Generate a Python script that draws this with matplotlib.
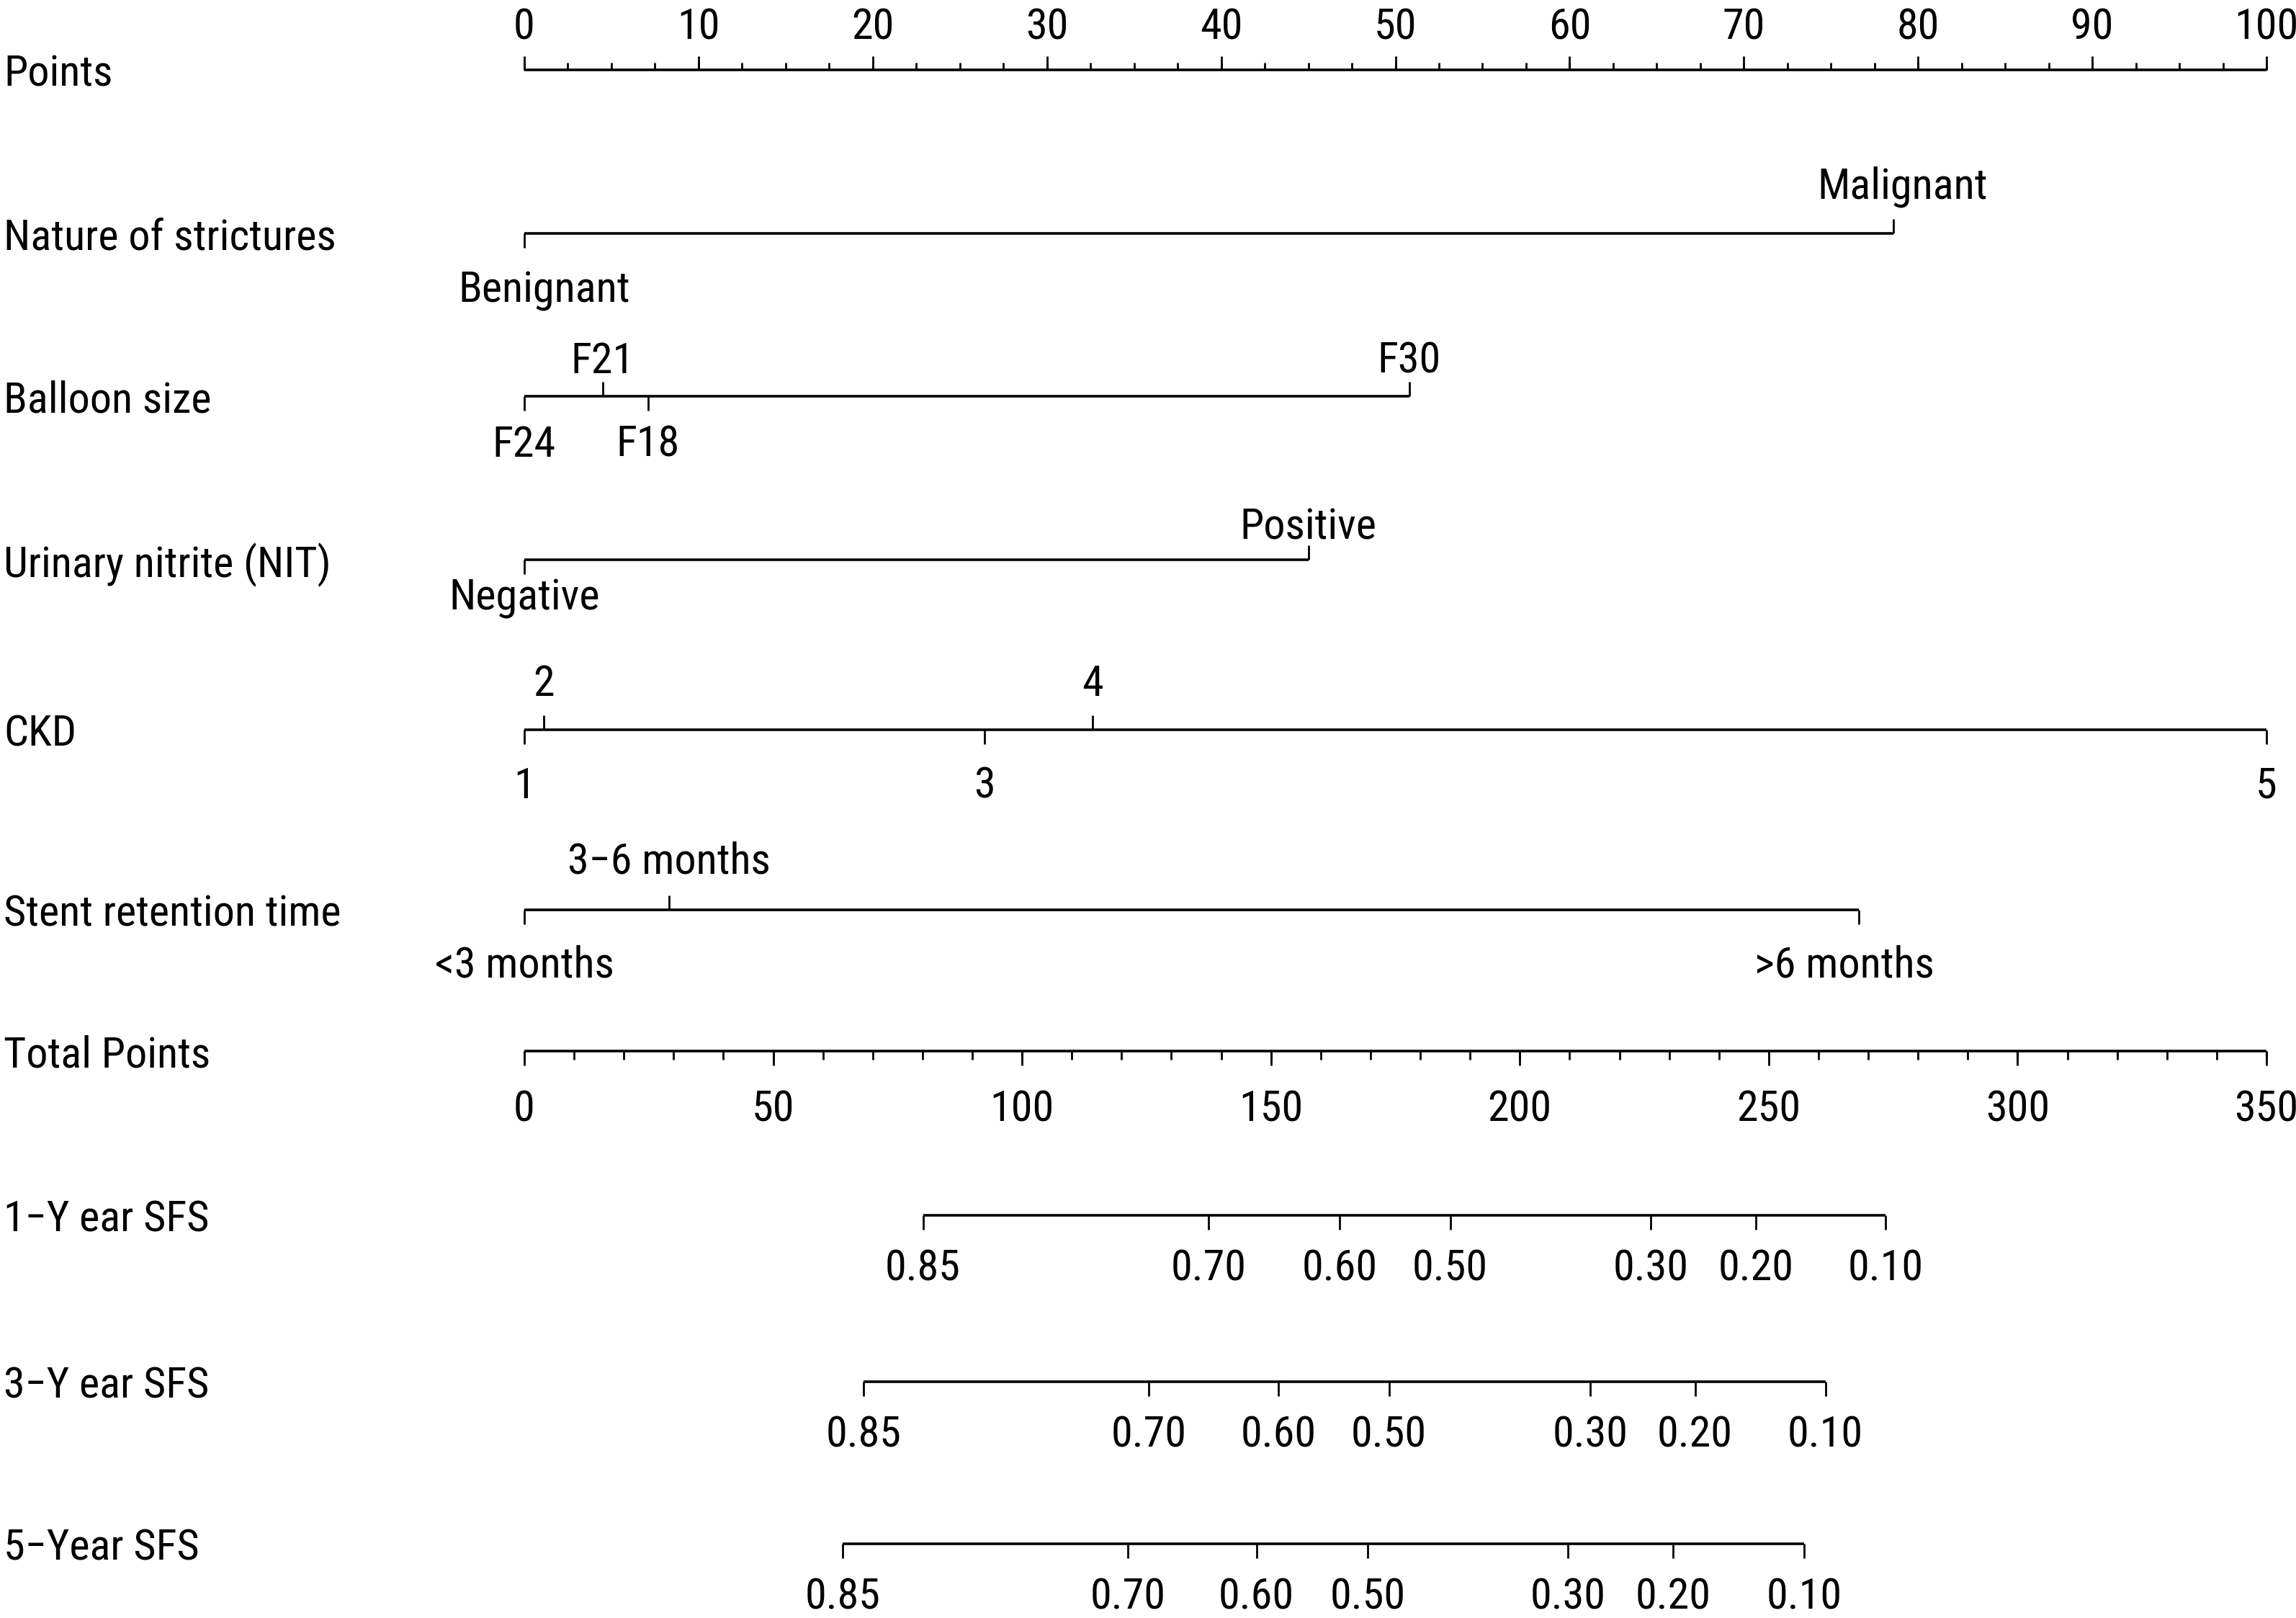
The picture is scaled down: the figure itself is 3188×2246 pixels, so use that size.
import matplotlib
matplotlib.use("Agg")
import matplotlib.pyplot as plt
from matplotlib import font_manager
from matplotlib.font_manager import FontProperties
import numpy as np

# ---------------- data ----------------
points_major = np.arange(0, 101, 10)
points_minor = np.arange(0, 100.01, 2.5)

nature_labels = ["Benignant", "Malignant"]
nature_points = [0.0, 78.6]
nature_sides = ["down", "up"]

balloon_labels = ["F24", "F21", "F18", "F30"]
balloon_points = [0.0, 4.5, 7.1, 50.8]
balloon_sides = ["down", "up", "down", "up"]

nit_labels = ["Negative", "Positive"]
nit_points = [0.0, 45.0]
nit_sides = ["down", "up"]

ckd_labels = ["1", "2", "3", "4", "5"]
ckd_points = [0.0, 1.1, 26.4, 32.6, 100.0]
ckd_sides = ["down", "up", "down", "up", "down"]

stent_labels = ["<3 months", "3\u22126 months", ">6 months"]
stent_points = [0.0, 8.3, 76.6]
stent_sides = ["down", "up", "down"]

total_major = np.arange(0, 351, 50)
total_minor = np.arange(0, 351, 10)

sfs_labels = ["0.85", "0.70", "0.60", "0.50", "0.30", "0.20", "0.10"]
sfs1_total = [80.1, 137.5, 163.8, 186.0, 226.3, 247.4, 273.5]
sfs3_total = [68.1, 125.4, 151.5, 173.7, 214.1, 235.2, 261.4]
sfs5_total = [63.9, 121.2, 147.1, 169.4, 209.7, 230.8, 257.1]

row_names = ["Points", "Nature of strictures", "Balloon size",
             "Urinary nitrite (NIT)", "CKD", "Stent retention time",
             "Total Points", "1\u2212Y ear SFS", "3\u2212Y ear SFS", "5\u2212Year SFS"]

# ---------------- font: prefer a narrow sans ----------------
def pick_font():
    fl = font_manager.fontManager.ttflist
    def regular(f):
        return f.style == "normal" and f.weight in (400, "normal", "regular", "book")
    tests = [
        lambda f: f.name == "Liberation Sans Narrow",
        lambda f: f.name in ("Roboto Condensed",),
        lambda f: f.name.startswith("Noto Sans") and ("condensed" in str(f.stretch).lower()
                  or "condensed" in f.fname.lower()) and "display" not in f.fname.lower()
                  and "semi" not in f.fname.lower() and "extra" not in f.fname.lower(),
        lambda f: f.name.startswith("Open Sans") and "condensed" in f.fname.lower(),
        lambda f: f.name == "DejaVu Sans" and "condensed" in f.fname.lower(),
        lambda f: f.name == "Liberation Sans",
    ]
    for t in tests:
        hits = [f for f in fl if t(f) and regular(f)]
        if hits:
            return hits[0].fname
    return None

fpath = pick_font()

W, H = 3188, 2246
row_y = [97, 324, 550, 777, 1013, 1263, 1459, 1687, 1918, 2143]
x0_px, x100_px = 728, 3147
LW = 2.6
TLW = 2.0
# small horizontal nudges (pixels) of some value labels, as seen in the reference
label_nudge_px = {"Benignant": 28, "Malignant": 12, ">6 months": -20}

fig = plt.figure(figsize=(W / 100, H / 100), dpi=100)
renderer = fig.canvas.get_renderer()

# size the font so that the longest row name spans the width seen in the reference
probe_fp = FontProperties(fname=fpath, size=47.5) if fpath else FontProperties(size=47.5)
probe = fig.text(0, 0, "Nature of strictures", fontproperties=probe_fp)
wpx = probe.get_window_extent(renderer=renderer).width
probe.remove()
FS = min(52.0, 47.5 * 462.0 / wpx)
FP = FontProperties(fname=fpath, size=FS) if fpath else FontProperties(size=FS)

ax = fig.add_axes([0, 0, 1, 1])
ppx = (x100_px - x0_px) / 100.0
ax.set_xlim(-x0_px / ppx, (W - x0_px) / ppx)
ax.set_ylim(H, 0)
ax.axis("off")

ax_t = fig.add_axes([0, 0, 1, 1])
ax_t.set_xlim(-x0_px / ppx * 3.5, (W - x0_px) / ppx * 3.5)
ax_t.set_ylim(H, 0)
ax_t.axis("off")
ax_t.patch.set_alpha(0)


def hline(a, y, x1, x2):
    a.plot([x1, x2], [y, y], color="black", lw=LW, solid_capstyle="butt")


def tick(a, x, y, length, up):
    s = -1 if up else 1
    a.plot([x, x], [y, y + s * length], color="black", lw=TLW, solid_capstyle="butt")


def label(a, x, y, s, ha="center"):
    a.text(x, y, s, ha=ha, va="center_baseline", fontproperties=FP)


def cat_axis(y, pts, labels, sides, off_up, off_down, tl=20):
    hline(ax, y, min(pts), max(pts))
    for p, lab, s in zip(pts, labels, sides):
        up = s == "up"
        tick(ax, p, y, tl, up)
        xl = p + label_nudge_px.get(lab, 0) / ppx
        label(ax, xl, y - off_up if up else y + off_down, lab)


# row names
for name, y in zip(row_names, row_y):
    ax.text(5 / W, y, name, transform=ax.get_yaxis_transform(), ha="left",
            va="center_baseline", fontproperties=FP)

# Points axis
y = row_y[0]
hline(ax, y, 0, 100)
for p in points_minor:
    tick(ax, p, y, 10, True)
for p in points_major:
    tick(ax, p, y, 19, True)
    label(ax, p, y - 65, f"{p:g}")

cat_axis(row_y[1], nature_points, nature_labels, nature_sides, 71, 73)
cat_axis(row_y[2], balloon_points, balloon_labels, balloon_sides, 55, 61)
cat_axis(row_y[3], nit_points, nit_labels, nit_sides, 51, 47)
cat_axis(row_y[4], ckd_points, ckd_labels, ckd_sides, 69, 72)
cat_axis(row_y[5], stent_points, stent_labels, stent_sides, 73, 71)

# Total points axis
y = row_y[6]
hline(ax_t, y, 0, 350)
for p in total_minor:
    tick(ax_t, p, y, 12, False)
for p in total_major:
    tick(ax_t, p, y, 20, False)
    label(ax_t, p, y + 75, f"{p:g}")

# survival axes
for y, tp in zip(row_y[7:], [sfs1_total, sfs3_total, sfs5_total]):
    hline(ax_t, y, min(tp), max(tp))
    for p, lab in zip(tp, sfs_labels):
        tick(ax_t, p, y, 20, False)
        label(ax_t, p, y + 68, lab)

fig.savefig("out.png", dpi=100, facecolor="white")
